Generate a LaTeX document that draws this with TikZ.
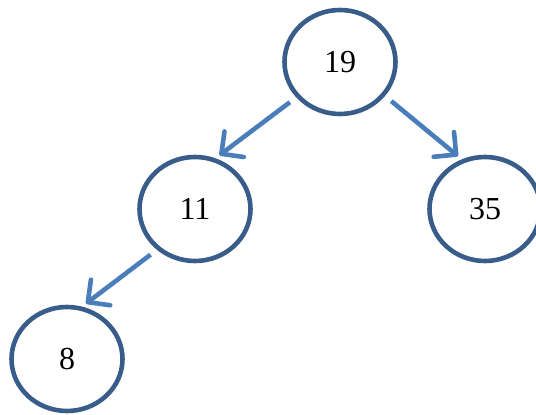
\documentclass[tikz,border=0pt]{standalone}
\usepackage{fontspec}
\setmainfont{Liberation Serif}
\usetikzlibrary{arrows.meta,shapes,positioning,trees}
\definecolor{nodeblue}{HTML}{385D8A}
\definecolor{arrowblue}{HTML}{4A7EBB}
\tikzset{
  basic/.style  = {draw=nodeblue, ellipse, line width=4.6pt, inner sep=0pt,
                   minimum width=111pt, minimum height=104pt,
                   font=\fontsize{32}{38}\selectfont},
  root/.style   = {basic},
  vertex/.style = {basic},
  link/.style   = {->, draw=arrowblue, line width=4.6pt,
                   shorten <=8pt, shorten >=5pt}
}
\begin{document}
\begin{tikzpicture}[x=1pt, y=1pt,
  level distance=147pt,
  level 1/.style={sibling distance=290pt},
  level 2/.style={sibling distance=256pt, level distance=150pt},
  edge from parent/.style={draw=none},
  >={Straight Barb[length=16pt,width=32pt,round]}]

\useasboundingbox (0,0) rectangle (536,415);

% root of the tree
\node[root] (r) at (340,353) {19}
% children, placed by the tree
  child {node[vertex] (c1) {11}
    child {node[vertex] (c11) {8}}
    child[missing]}
  child {node[vertex] (c2) {35}};

% arrows between the nodes
\draw[link] (r.219) -- (c1.68);
\draw[link] (r.323) -- (c2.115);
\draw[link] (c1.227) -- (c11.74);

\end{tikzpicture}
\end{document}
